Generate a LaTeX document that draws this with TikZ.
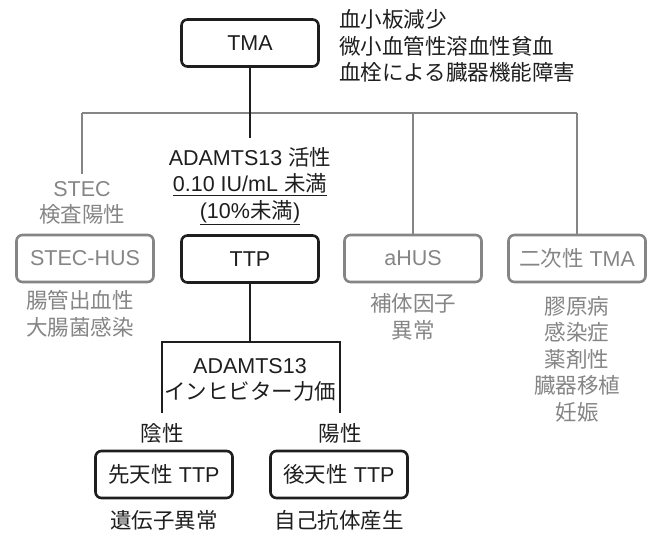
\documentclass[tikz,border=0pt]{standalone}
\usepackage{fontspec}
\setmainfont{Liberation Sans}
\newfontfamily\jp{Noto Sans CJK JP}
\newcommand{\J}[1]{{\jp #1}}
\definecolor{gr}{HTML}{858585}
\definecolor{bk}{HTML}{1E1E1E}
\tikzset{
  box/.style={draw=bk, text=bk, line width=2.6pt, rounded corners=6pt, minimum width=137pt, minimum height=47pt, inner sep=0pt, font=\fontsize{21.5}{26}\selectfont},
  gbox/.style={box, draw=gr, text=gr},
  txt/.style={align=center, inner sep=0pt, text=bk, font=\fontsize{21.5}{26.5}\selectfont},
  gtxt/.style={txt, text=gr},
  ln/.style={draw=bk, line width=1.5pt},
  gln/.style={draw=gr, line width=1.5pt}
}
\begin{document}
\begin{tikzpicture}[x=1pt,y=-1pt]
\useasboundingbox (0,0) rectangle (653,533);
% boxes
\node[box] (tma) at (250,43) {TMA};
\node[gbox] (stechus) at (85,258.5) {STEC-HUS};
\node[box] (ttp) at (250,259) {TTP};
\node[gbox] (ahus) at (413,258.5) {aHUS};
\node[gbox] (sec) at (577,258.5) {\J{二次性} TMA};
\node[box] (cong) at (164,474.5) {\J{先天性} TTP};
\node[box] (acq) at (339,474.5) {\J{後天性} TTP};
% texts
\node[txt, align=left, anchor=west] (crit) at (339,46) {\J{血小板減少}\\\J{微小血管性溶血性貧血}\\\J{血栓による臓器機能障害}};
\node[gtxt] (stec) at (82,203) {STEC\\\J{検査陽性}};
\node[txt] (adam) at (250,186) {ADAMTS13 \J{活性}\\\underline{0.10 IU/mL \J{未満}}\\\underline{(10\%\J{未満})}};
\node[gtxt] (stecsub) at (80,314) {\J{腸管出血性}\\\J{大腸菌感染}};
\node[gtxt] (ahussub) at (413,317) {\J{補体因子}\\\J{異常}};
\node[gtxt] (secsub) at (577,359) {\J{膠原病}\\\J{感染症}\\\J{薬剤性}\\\J{臓器移植}\\\J{妊娠}};
\node[txt] (inhib) at (250,380) {ADAMTS13\\\J{インヒビター力価}};
\node[txt] (neg) at (162,433) {\J{陰性}};
\node[txt] (pos) at (340,433) {\J{陽性}};
\node[txt] (gene) at (164,520) {\J{遺伝子異常}};
\node[txt] (auto) at (339,520) {\J{自己抗体産生}};
% connectors
\coordinate (j1) at (250,113);
\coordinate (hl) at (82,113);
\coordinate (hr) at (577,113);
\draw[gln] (hl) -- (hr);
\draw[gln] (hl) -- (82,174);
\draw[gln] (ahus.north |- hl) -- (ahus.north);
\draw[gln] (hr) -- (sec.north);
\draw[ln] (tma.south) -- (j1) -- (250,138);
\coordinate (j2) at (250,342);
\coordinate (j2l) at (162,342);
\coordinate (j2r) at (340,342);
\draw[ln] (ttp.south) -- (j2);
\draw[ln] (162,413) -- (j2l) -- (j2r) -- (340,413);
\end{tikzpicture}
\end{document}
